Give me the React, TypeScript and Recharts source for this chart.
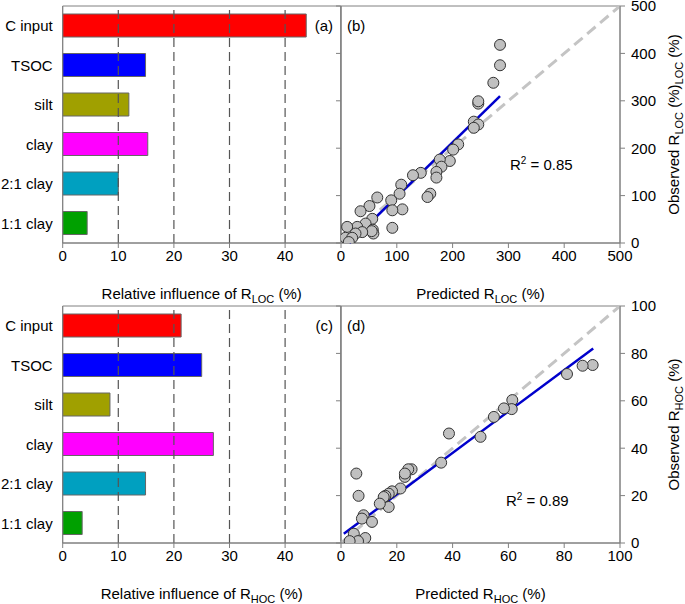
import React from 'react';
import {
  BarChart, Bar, Cell, XAxis, YAxis, ReferenceLine, ReferenceArea,
  ScatterChart, Scatter, Label,
} from 'recharts';

const categories = ['C input', 'TSOC', 'silt', 'clay', '2:1 clay', '1:1 clay'];
const locInfluence = [43.8, 14.9, 11.9, 15.3, 10.0, 4.4];
const hocInfluence = [21.3, 25.0, 8.5, 27.1, 14.9, 3.5];
const barColors = ['#ff0000', '#0000ff', '#a0a000', '#ff00ff', '#00a0c0', '#00a000'];
const influenceTicks = [0, 10, 20, 30, 40];
const influenceGrid = [10, 20, 30, 40];

const locPredicted = [285, 285, 273, 246, 246, 238, 246, 238, 210, 201, 195, 177, 180, 171, 171, 160, 155, 143, 129, 108, 105, 110, 90, 92, 65, 51, 35, 92, 56, 44, 29, 11, 57, 58, 55, 38, 26, 8, 20, 14];
const locObserved = [418, 375, 338, 294, 299, 256, 250, 243, 208, 197, 173, 176, 161, 150, 138, 104, 97, 148, 143, 123, 104, 71, 90, 69, 96, 78, 67, 32, 51, 41, 34, 34, 28, 20, 25, 23, 20, 11, 11, 2];
const locTicks = [0, 100, 200, 300, 400, 500];
const locFit = [{ x: 15, y: 0 }, { x: 285, y: 310 }];
const locOneToOne = [{ x: 0, y: 0 }, { x: 500, y: 500 }];

const hocPredicted = [90.2, 86.6, 81, 61.4, 61.2, 58.4, 54.8, 50, 38.7, 35.9, 25.3, 24.1, 22.9, 22.9, 21.3, 18.3, 17.1, 15.9, 15.3, 17.1, 13.9, 5.5, 6.3, 8.1, 7.5, 11.1, 4.6, 8.7, 6.1, 3.1];
const hocObserved = [75.1, 74.8, 71.3, 60.3, 56.5, 56.8, 53.2, 44.8, 46.2, 33.9, 31.1, 31.1, 27.9, 29.3, 23, 21.8, 20.8, 19.9, 19.4, 15.2, 16.6, 29.3, 19.9, 11.7, 10.3, 8.9, 3.9, 2.1, 0.8, 0.8];
const hocTicks = [0, 20, 40, 60, 80, 100];
const hocFit = [{ x: 1, y: 3.9 }, { x: 90.4, y: 82.1 }];
const hocOneToOne = [{ x: 0, y: 0 }, { x: 100, y: 100 }];

const FONT = '"Liberation Sans", Arial, sans-serif';
const AXIS = '#808080';
const tickStyle = { fill: '#000', fontSize: 15, fontFamily: FONT };

// text with subscript pieces: [text, isSub]
function subText(parts: Array<[string, boolean]>) {
  return parts.map(([t, sub], i) => (
    <tspan key={i} fontSize={sub ? 11 : 15} dy={sub ? 4 : i > 0 && parts[i - 1][1] ? -4 : 0}>{t}</tspan>
  ));
}

function InfluencePanel({ values, sub, letter }: { values: number[]; sub: string; letter: string }) {
  const data = categories.map((name, i) => ({ name, value: values[i] }));
  return (
    <BarChart width={345} height={304} data={data} layout="vertical"
      margin={{ top: 6, right: 4.3, left: 0, bottom: 0 }}>
      <XAxis type="number" domain={[0, 50]} ticks={influenceTicks} tickSize={5} height={61}
        stroke={AXIS} tick={tickStyle} interval={0}>
        <Label content={(p: any) => {
          const vb = p.viewBox;
          return (
            <text x={vb.x + vb.width / 2} y={vb.y + 56} textAnchor="middle" fontFamily={FONT} fill="#000">
              {subText([['Relative influence of R', false], [sub, true], [' (%)', false]])}
            </text>
          );
        }} />
      </XAxis>
      <YAxis type="category" dataKey="name" width={62.7} tickLine={false} tickSize={0} tickMargin={10}
        stroke={AXIS} tick={tickStyle} interval={0} />
      <ReferenceArea x1={0} x2={50} fill="none" stroke={AXIS} strokeWidth={1} />
      {influenceGrid.map((v) => (
        <ReferenceLine key={v} x={v} stroke="#555" strokeDasharray="9 5" strokeWidth={1.2} />
      ))}
      <Bar dataKey="value" barSize={23} stroke="#666" strokeWidth={1} isAnimationActive={false}>
        {data.map((d, i) => <Cell key={d.name} fill={barColors[i]} />)}
      </Bar>
      <text x={333} y={31} textAnchor="end" fontFamily={FONT} fontSize={15}>{letter}</text>
    </BarChart>
  );
}

function Dot(props: any) {
  return <circle cx={props.cx} cy={props.cy} r={5.5} fill="#c0c0c0" stroke="#333" strokeWidth={1} />;
}

function FitPanel({ pred, obs, ticks, max, fit, oneToOne, sub, yParts, letter, r2, r2Pos }: any) {
  const data = pred.map((x: number, i: number) => ({ x, y: obs[i] }));
  return (
    <ScatterChart width={355} height={304} margin={{ top: 6, right: 0, left: 0, bottom: 0 }}>
      <XAxis type="number" dataKey="x" domain={[0, max]} ticks={ticks} tickSize={5} height={61}
        stroke={AXIS} tick={tickStyle} interval={0} allowDataOverflow>
        <Label content={(p: any) => {
          const vb = p.viewBox;
          return (
            <text x={vb.x + vb.width / 2} y={vb.y + 56} textAnchor="middle" fontFamily={FONT} fill="#000">
              {subText([['Predicted R', false], [sub, true], [' (%)', false]])}
            </text>
          );
        }} />
      </XAxis>
      <YAxis yAxisId="l" orientation="left" type="number" domain={[0, max]} ticks={ticks} width={11}
        tickSize={5} tickFormatter={() => ''} stroke={AXIS} allowDataOverflow />
      <YAxis yAxisId="r" orientation="right" type="number" dataKey="y" domain={[0, max]} ticks={ticks}
        width={65} tickSize={5} tickMargin={6} stroke={AXIS} tick={{ ...tickStyle, textAnchor: 'start' }}
        interval={0} allowDataOverflow>
        <Label content={(p: any) => {
          const vb = p.viewBox;
          const cx = vb.x + 59;
          const cy = vb.y + vb.height / 2;
          return (
            <text x={cx} y={cy} transform={`rotate(-90 ${cx} ${cy})`} textAnchor="middle" fontFamily={FONT} fill="#000">
              {subText(yParts)}
            </text>
          );
        }} />
      </YAxis>
      <ReferenceArea yAxisId="r" x1={0} x2={max} y1={0} y2={max} fill="none" stroke={AXIS} />
      <ReferenceLine yAxisId="r" segment={oneToOne} stroke="#c4c4c4" strokeWidth={3} strokeDasharray="11 6" />
      <Scatter yAxisId="r" data={data} shape={<Dot />} isAnimationActive={false} />
      <ReferenceLine yAxisId="r" segment={fit} stroke="#0000cc" strokeWidth={2.5} />
      <text x={17} y={31} fontFamily={FONT} fontSize={15}>{letter}</text>
      <text x={r2Pos[0]} y={r2Pos[1]} fontFamily={FONT} fontSize={15}>
        <tspan>R</tspan><tspan fontSize={10} dy={-6}>2</tspan><tspan dy={6}> = {r2}</tspan>
      </text>
    </ScatterChart>
  );
}

export default function App() {
  return (
    <div style={{ position: 'absolute', left: 0, top: 0, width: 685, height: 604, background: '#fff' }}>
      <style>{'svg.recharts-surface { overflow: visible; }'}</style>
      <div style={{ position: 'absolute', left: 0, top: 0 }}>
        <InfluencePanel values={locInfluence} sub="LOC" letter="(a)" />
      </div>
      <div style={{ position: 'absolute', left: 330, top: 0 }}>
        <FitPanel pred={locPredicted} obs={locObserved} ticks={locTicks} max={500} fit={locFit}
          oneToOne={locOneToOne} sub="LOC" letter="(b)" r2="0.85" r2Pos={[180, 170]}
          yParts={[['Observed R', false], ['LOC', true], [' (%)', false], ['LOC', true], [' (%)', false]]} />
      </div>
      <div style={{ position: 'absolute', left: 0, top: 300 }}>
        <InfluencePanel values={hocInfluence} sub="HOC" letter="(c)" />
      </div>
      <div style={{ position: 'absolute', left: 330, top: 300 }}>
        <FitPanel pred={hocPredicted} obs={hocObserved} ticks={hocTicks} max={100} fit={hocFit}
          oneToOne={hocOneToOne} sub="HOC" letter="(d)" r2="0.89" r2Pos={[176, 206]}
          yParts={[['Observed R', false], ['HOC', true], [' (%)', false]]} />
      </div>
    </div>
  );
}
